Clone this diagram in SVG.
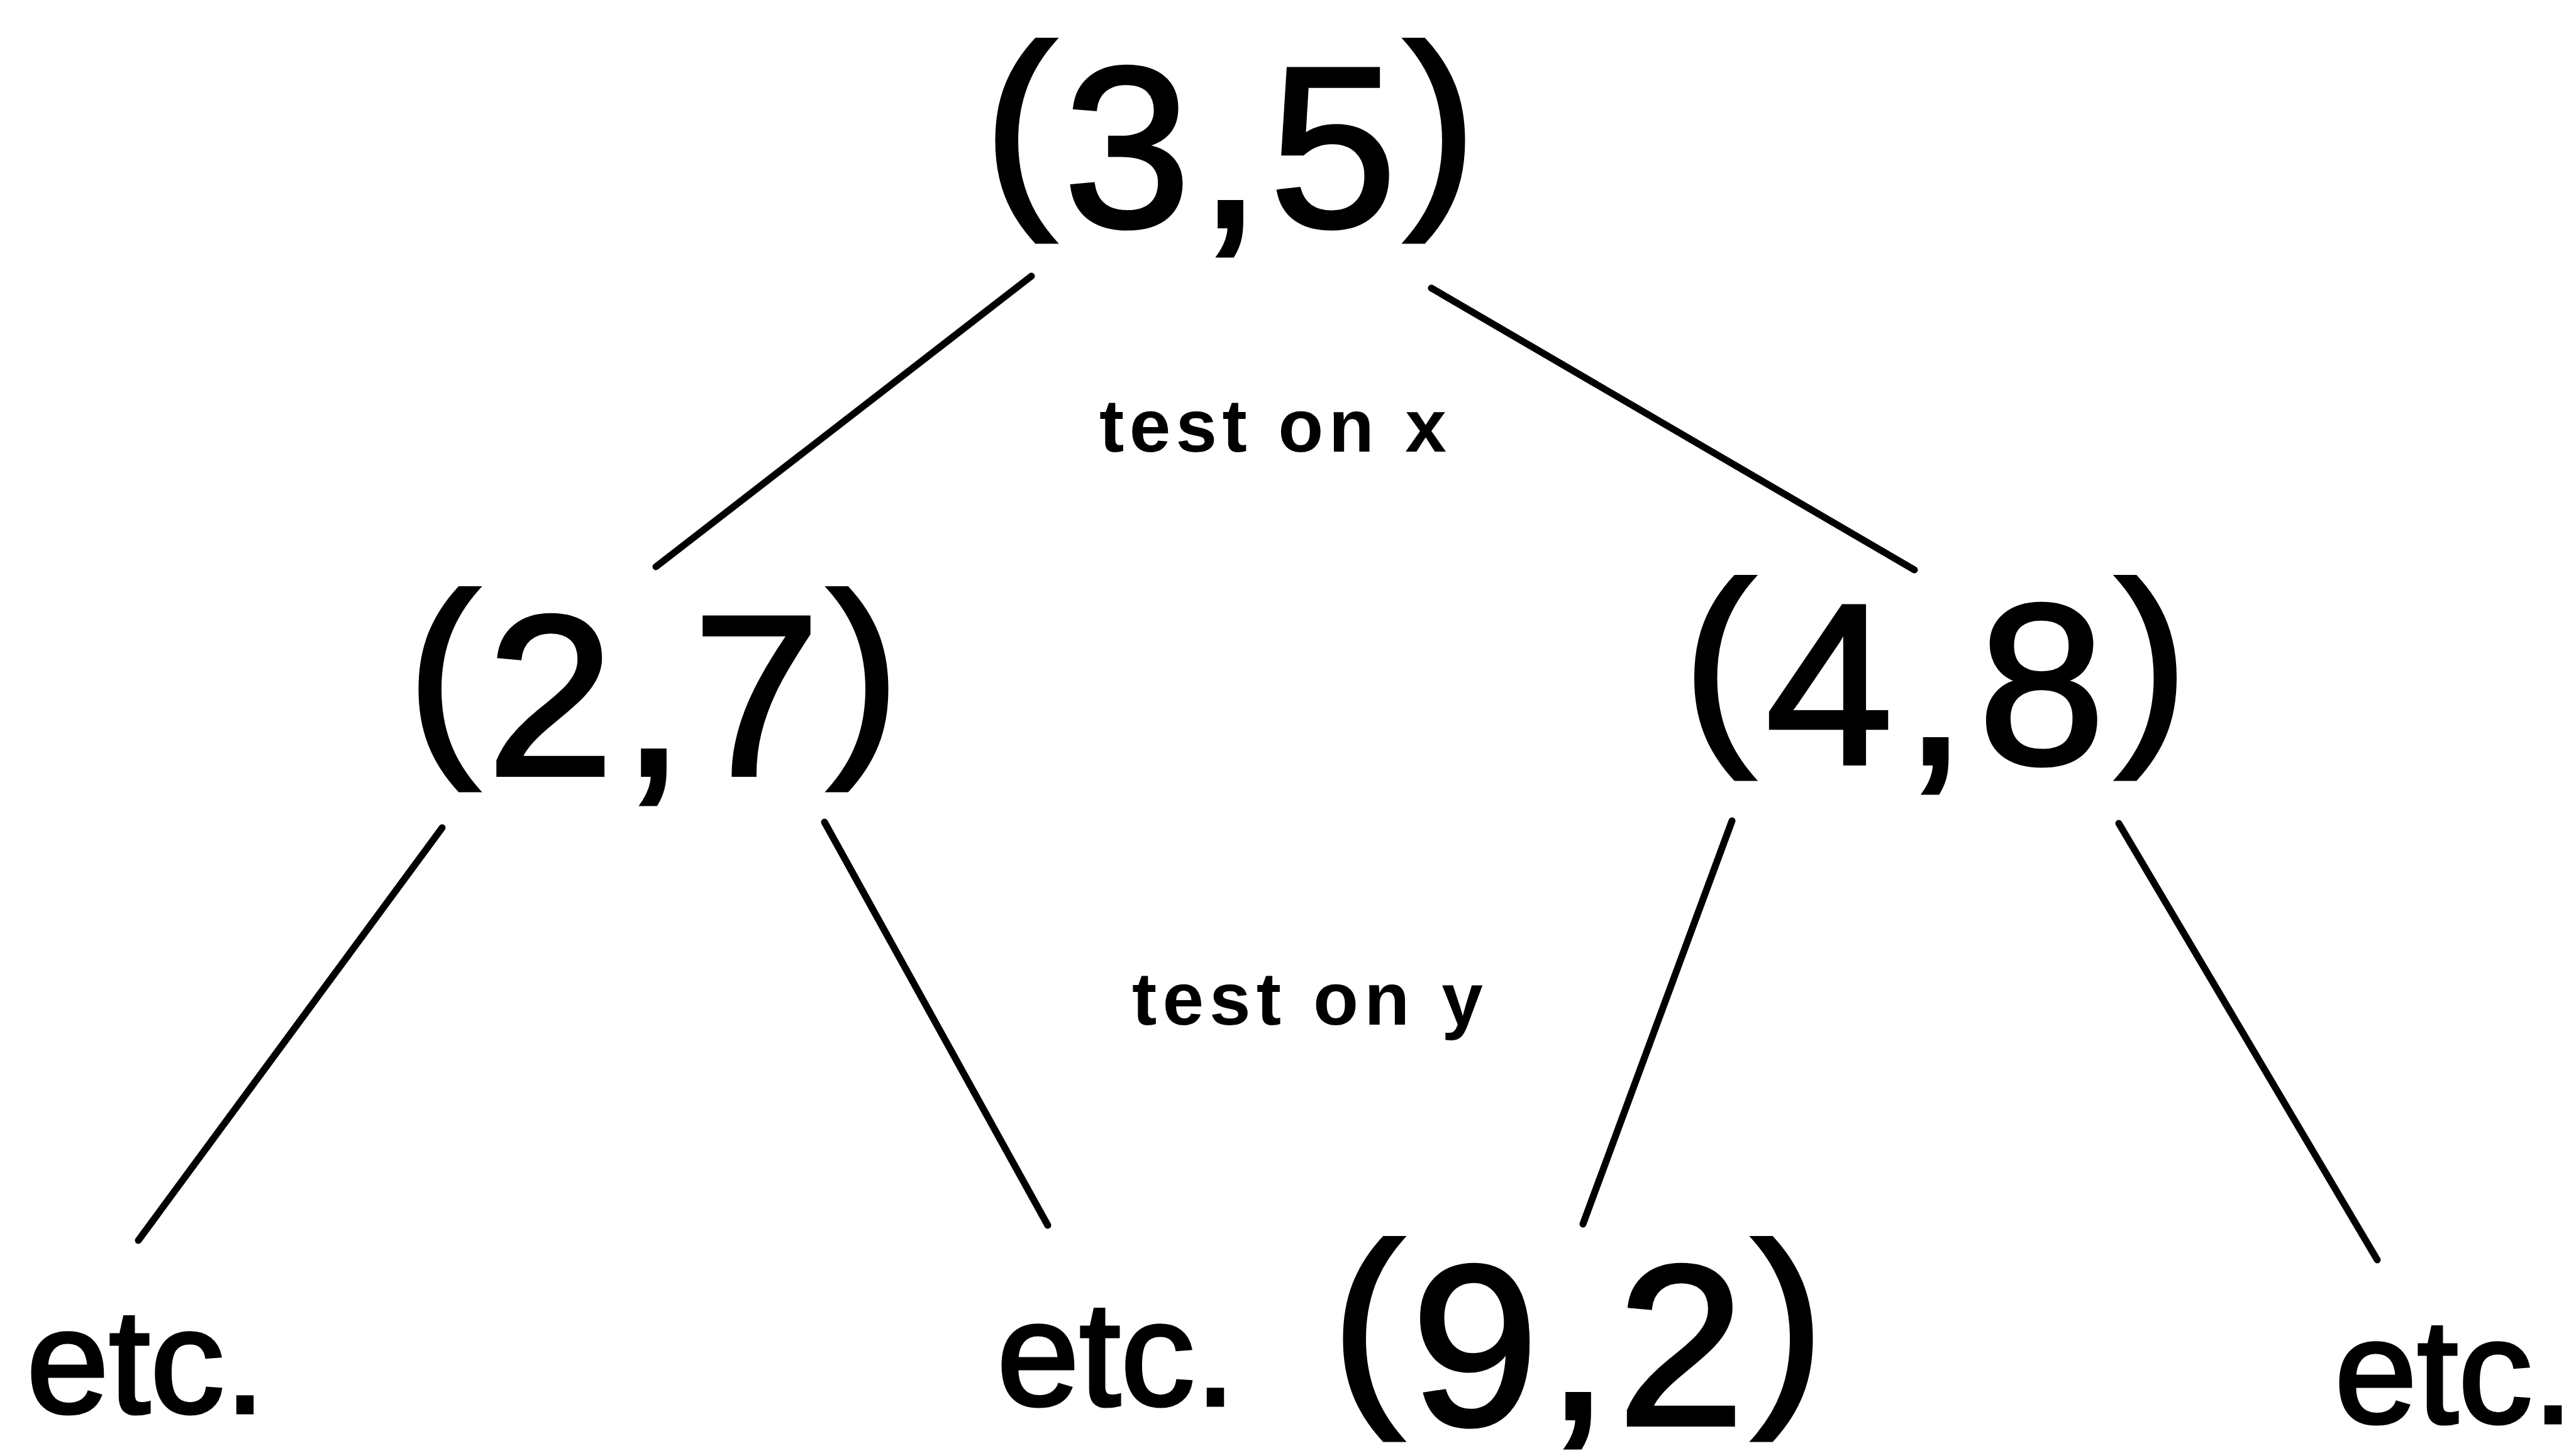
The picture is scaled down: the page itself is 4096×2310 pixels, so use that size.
<svg xmlns="http://www.w3.org/2000/svg" width="4096" height="2310" viewBox="0 0 4096 2310">
  <style>
    .node { font-family: "Liberation Sans", Arial, sans-serif; font-size: 364px; fill: #000; stroke: #000; stroke-width: 6; letter-spacing: 12px; }
    .par { font-size: 345px; }
    .etc { font-family: "Liberation Sans", Arial, sans-serif; font-size: 236px; fill: #000; stroke: #000; stroke-width: 5; }
    .lbl { font-family: "Liberation Sans", Arial, sans-serif; font-size: 118px; font-weight: bold; fill: #000; }
    .edge { stroke: #000; stroke-width: 11; stroke-linecap: round; fill: none; }
  </style>
  <rect x="0" y="0" width="4096" height="2310" fill="#fff"/>
  <g id="connectors">
    <line class="edge" x1="1640" y1="439" x2="1043" y2="901"/>
    <line class="edge" x1="2276" y1="458" x2="3044" y2="906"/>
    <line class="edge" x1="703" y1="1316" x2="220" y2="1972"/>
    <line class="edge" x1="1311" y1="1307" x2="1666" y2="1948"/>
    <line class="edge" x1="2754" y1="1305" x2="2517" y2="1946"/>
    <line class="edge" x1="3369" y1="1309" x2="3780" y2="2003"/>
  </g>
  <g id="node-3-5"><text class="node" x="1962" y="360" text-anchor="middle"><tspan class="par" dy="-47">(</tspan><tspan dy="47">3,5</tspan><tspan class="par" dy="-47">)</tspan></text></g>
  <g id="node-2-7"><text class="node" x="1045" y="1232" text-anchor="middle"><tspan class="par" dy="-47">(</tspan><tspan dy="47">2,7</tspan><tspan class="par" dy="-47">)</tspan></text></g>
  <g id="node-4-8"><text class="node" x="3086" y="1214" text-anchor="middle" style="letter-spacing:17px"><tspan class="par" dy="-47">(</tspan><tspan dy="47">4,8</tspan><tspan class="par" dy="-47">)</tspan></text></g>
  <g id="node-9-2"><text class="node" x="2515" y="2265" text-anchor="middle"><tspan class="par" dy="-47">(</tspan><tspan dy="47">9</tspan><tspan dy="-10">,</tspan><tspan dy="10">2</tspan><tspan class="par" dy="-47">)</tspan></text></g>
  <g id="node-etc-1"><text class="etc" x="42" y="2246">etc.</text></g>
  <g id="node-etc-2"><text class="etc" x="1585" y="2234">etc.</text></g>
  <g id="node-etc-3"><text class="etc" x="3712" y="2262">etc.</text></g>
  <g id="label-x"><text class="lbl" x="1748" y="718" textLength="552" lengthAdjust="spacing">test on x</text></g>
  <g id="label-y"><text class="lbl" x="1800" y="1629" textLength="558" lengthAdjust="spacing">test on y</text></g>
</svg>
